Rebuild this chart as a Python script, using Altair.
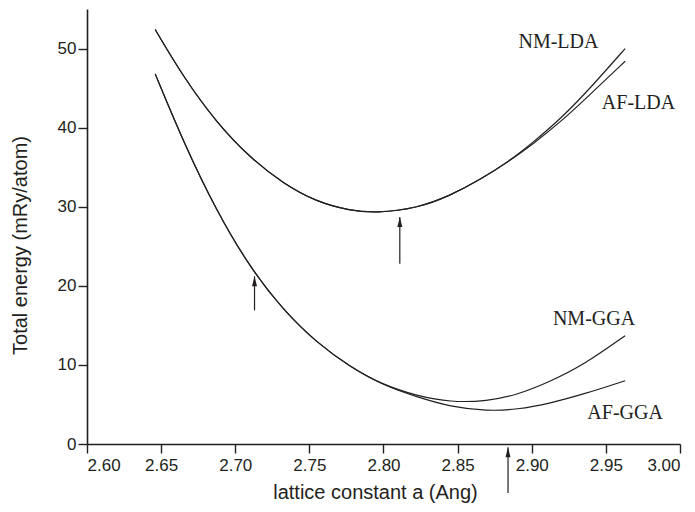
import altair as alt
import pandas as pd

# ---- data ----
lda_x = [2.646, 2.665, 2.6875, 2.71, 2.7325, 2.755, 2.7775, 2.795, 2.8225, 2.845, 2.865, 2.885, 2.90, 2.92, 2.94, 2.963]
nm_lda = [52.4, 46.4, 40.6, 36.2, 32.9, 30.6, 29.5, 29.2, 29.8, 31.4, 33.4, 35.8, 38.0, 41.2, 45.1, 50.0]
af_lda = [52.4, 46.4, 40.6, 36.2, 32.9, 30.6, 29.5, 29.2, 29.8, 31.4, 33.4, 35.8, 37.8, 40.8, 44.3, 48.4]

gga_x = [2.646, 2.665, 2.6875, 2.71, 2.7325, 2.755, 2.7775, 2.80, 2.8225, 2.845, 2.87, 2.89, 2.9125, 2.935, 2.963]
nm_gga = [46.8, 38.2, 29.4, 22.3, 16.9, 12.8, 9.75, 7.45, 6.1, 5.28, 5.42, 6.2, 7.9, 10.0, 13.7]
af_gga = [46.8, 38.2, 29.4, 22.3, 16.9, 12.8, 9.75, 7.4, 5.95, 4.7, 4.17, 4.35, 5.15, 6.3, 8.0]

label_text = ["NM-LDA", "AF-LDA", "NM-GGA", "AF-GGA"]
label_x = [2.918, 2.972, 2.942, 2.963]
label_y = [50.1, 42.4, 15.1, 3.2]

arrow_x = [2.811, 2.713, 2.884]
arrow_base = [22.8, 16.9, -6.2]
arrow_tip = [28.7, 21.2, -0.4]

x_ticks = [round(2.6 + 0.025 * i, 3) for i in range(17)]
y_ticks = [5 * i for i in range(12)]

# ---- tables ----
rows = []
for xv, a, b in zip(lda_x, nm_lda, af_lda):
    rows.append({"a": xv, "E": a, "series": "NM-LDA"})
    rows.append({"a": xv, "E": b, "series": "AF-LDA"})
for xv, a, b in zip(gga_x, nm_gga, af_gga):
    rows.append({"a": xv, "E": a, "series": "NM-GGA"})
    rows.append({"a": xv, "E": b, "series": "AF-GGA"})
curves = pd.DataFrame(rows)
labels = pd.DataFrame({"t": label_text, "a": label_x, "E": label_y})
arrows = pd.DataFrame({"a": arrow_x, "E": arrow_base, "E2": arrow_tip})

INK = "#231f20"

xscale = alt.Scale(domain=[2.6, 3.0], nice=False, zero=False)
yscale = alt.Scale(domain=[0, 55], nice=False)

major_x = "abs(round(datum.value*20) - datum.value*20) < 0.001"
major_y = "datum.value % 10 === 0"

xaxis = alt.Axis(
    values=x_ticks,
    title="lattice constant a (Ang)",
    labelExpr=f"{major_x} ? format(datum.value, '.2f') : ''",
    tickSize={"condition": {"test": major_x, "value": 9}, "value": 5},
    grid=False,
    labelPadding=4,
    titlePadding=9,
    titleFontSize=20,
    titleX=288,
)
yaxis = alt.Axis(
    values=y_ticks,
    title="Total energy (mRy/atom)",
    labelExpr=f"{major_y} ? format(datum.value, 'd') : ''",
    tickSize={"condition": {"test": major_y, "value": 9}, "value": 5},
    grid=False,
    labelPadding=2,
    titlePadding=27,
    titleFontSize=20,
    titleY=236,
)

lines = alt.Chart(curves).mark_line(color=INK, strokeWidth=1.2, interpolate="basis", clip=False).encode(
    x=alt.X("a:Q", scale=xscale, axis=xaxis),
    y=alt.Y("E:Q", scale=yscale, axis=yaxis),
    detail="series:N",
)

text = alt.Chart(labels).mark_text(
    font="Liberation Serif", fontSize=20, color=INK, align="center", baseline="alphabetic"
).encode(x="a:Q", y="E:Q", text="t:N")

shafts = alt.Chart(arrows).mark_rule(color=INK, strokeWidth=1.2, clip=False).encode(
    x="a:Q", y="E:Q", y2="E2:Q"
)

heads = alt.Chart(arrows).mark_point(
    shape="M0,-1L0.5,1L-0.5,1Z", size=100, filled=True, color=INK, opacity=1, yOffset=5, clip=False
).encode(x="a:Q", y="E2:Q")

chart = alt.layer(lines, text, shafts, heads).properties(
    width=593, height=435,
    autosize=alt.AutoSizeParams(type="none"),
    padding={"left": 87, "top": 9, "right": 15, "bottom": 68},
).configure_view(stroke=None).configure_axis(
    domainColor=INK, domainWidth=1.6, tickColor=INK, tickWidth=1.4,
    labelColor=INK, titleColor=INK, labelFont="Liberation Sans", titleFont="Liberation Sans",
    labelFontSize=17, titleFontWeight="normal",
)

chart.save("out.html", embed_options={"renderer": "svg", "actions": False})
